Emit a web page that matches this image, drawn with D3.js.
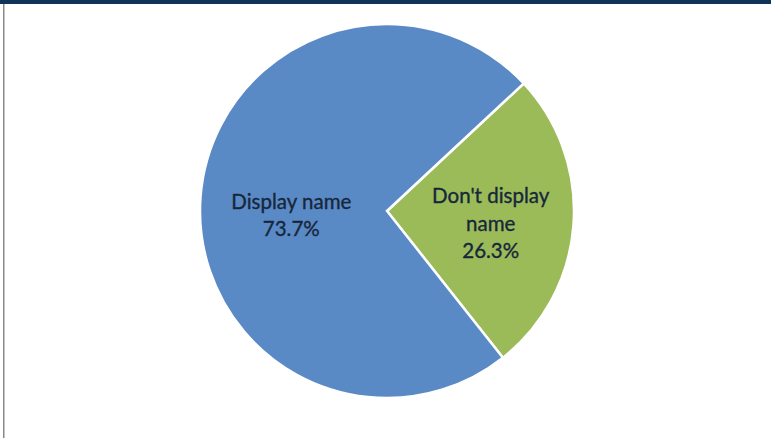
<!DOCTYPE html>
<html>
<head>
<meta charset="utf-8">
<script src="https://cdn.jsdelivr.net/npm/d3@7"></script>
<style>
  html, body { margin: 0; padding: 0; background: #fff; }
  svg { display: block; }
</style>
</head>
<body>
<svg id="chart" width="771" height="438"></svg>
<script>
// Share of respondents by whether they display their name
const categories = ["Don't display name", "Display name"];
const labelLines = [["Don't display", "name"], ["Display name"]];
const values = [26.3, 73.7];
const colors = ["#9bbb59", "#5a8ac6"];

const W = 771, H = 438;
const cx = 387, cy = 211, r = 187;

const svg = d3.select("#chart");

// frame: heavy navy rule on top, thin grey rule on the left
svg.append("rect").attr("x", 0).attr("y", 0).attr("width", W).attr("height", 4).attr("fill", "#0e3559");
svg.append("rect").attr("x", 3).attr("y", 4).attr("width", 1.5).attr("height", H - 4).attr("fill", "#8a8a8a");

const startDeg = 47;
const pie = d3.pie()
  .sort(null)
  .value(d => d)
  .startAngle(startDeg * Math.PI / 180)
  .endAngle(startDeg * Math.PI / 180 + 2 * Math.PI);

const arcs = pie(values);
const arc = d3.arc().innerRadius(0).outerRadius(r);
const labelArc = d3.arc().innerRadius(100).outerRadius(100);

const g = svg.append("g").attr("transform", `translate(${cx},${cy})`);

g.selectAll("path.slice")
  .data(arcs)
  .join("path")
  .attr("class", "slice")
  .attr("d", arc)
  .attr("fill", (d, i) => colors[i])
  .attr("stroke", "#ffffff")
  .attr("stroke-width", 2.5)
  .attr("stroke-linejoin", "miter");

// label blocks sit at the slice centroid, nudged a little
const fontSize = 20.5, lineH = 27.5;
const nudgeY = [5, 12];
const labels = g.selectAll("text.lbl")
  .data(arcs)
  .join("text")
  .attr("class", "lbl")
  .attr("text-anchor", "middle")
  .attr("font-family", "Lato, 'Open Sans', sans-serif")
  .attr("font-size", fontSize)
  .attr("fill", "#17273b")
  .attr("stroke", "#17273b")
  .attr("stroke-width", 0.35)
  .attr("transform", (d, i) => {
    const [x, y] = labelArc.centroid(d);
    return `translate(${x + 4},${y + nudgeY[i]})`;
  });

labels.each(function(d, i) {
  const lines = labelLines[i].concat([d3.format(".1f")(values[i]) + "%"]);
  const t = d3.select(this);
  const top = -((lines.length - 1) * lineH) / 2 + fontSize * 0.34;
  lines.forEach((s, k) => {
    t.append("tspan").attr("x", 0).attr("y", top + k * lineH).text(s);
  });
});
</script>
</body>
</html>
